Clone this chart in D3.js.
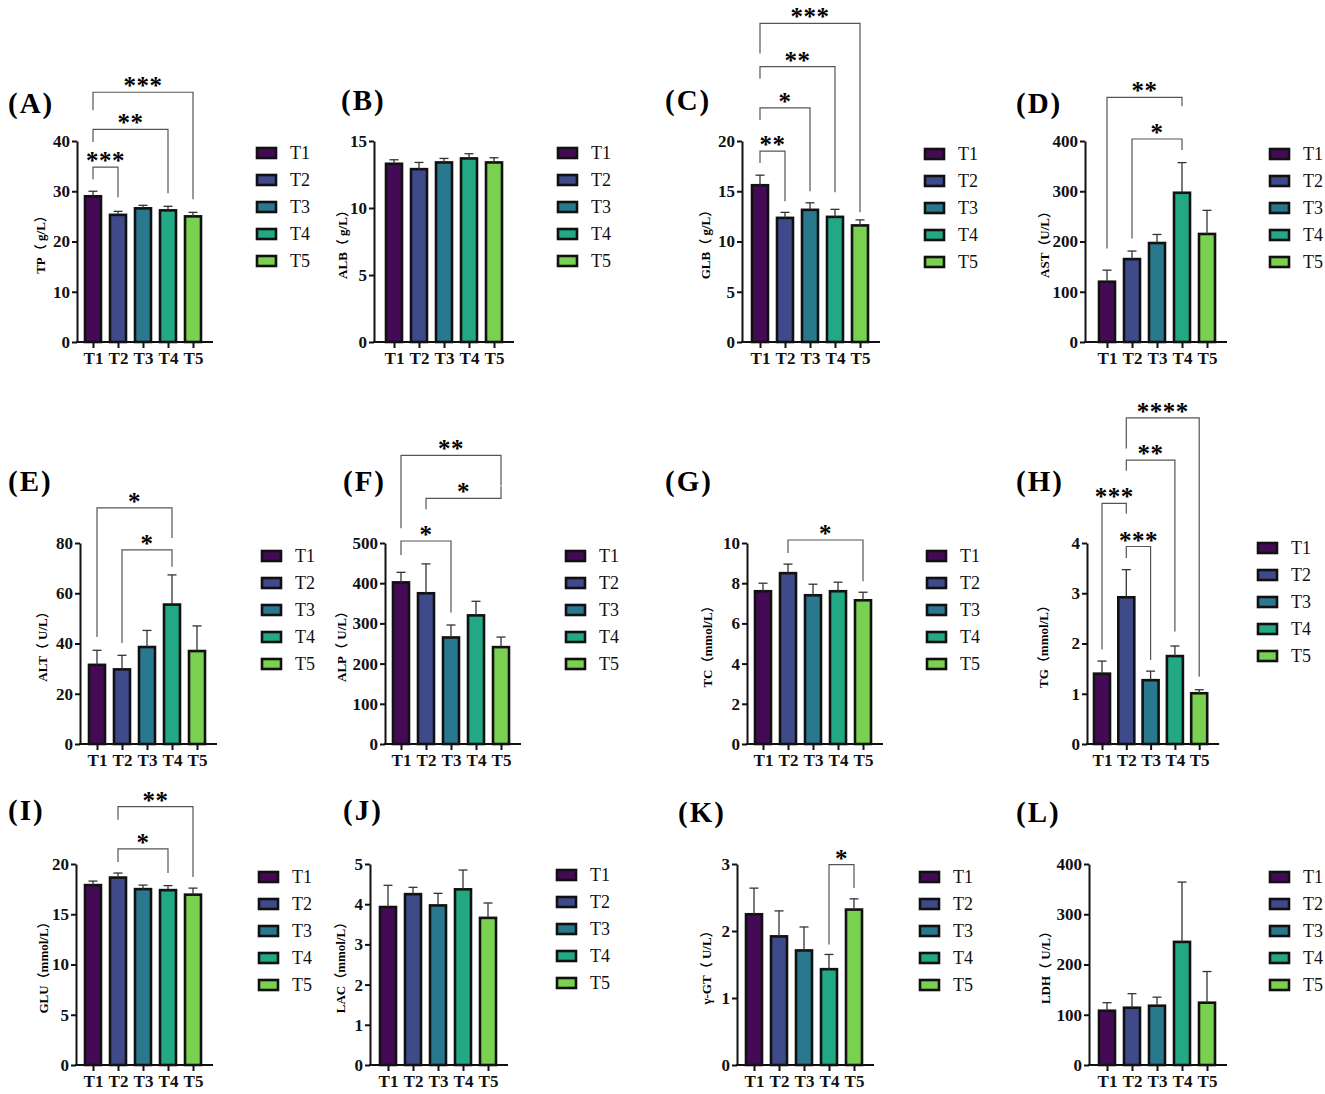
<!DOCTYPE html>
<html>
<head>
<meta charset="utf-8">
<script src="https://cdn.jsdelivr.net/npm/d3@7"></script>
<style>
  body { margin: 0; background: #fff; }
  svg { display: block; }
  text { font-family: "Liberation Serif", "Noto Sans CJK SC", serif; }
</style>
</head>
<body>
<svg width="1325" height="1094"></svg>
<script>
// groups
var categories = ["T1", "T2", "T3", "T4", "T5"];

// means and upward error (top of bar minus mean)
var tpMean = [29.0, 25.3, 26.6, 26.2, 25.0],   tpErr = [1.0, 0.7, 0.6, 0.8, 0.8];
var albMean = [13.3, 12.9, 13.4, 13.7, 13.4],  albErr = [0.3, 0.5, 0.3, 0.35, 0.35];
var glbMean = [15.6, 12.35, 13.15, 12.45, 11.6], glbErr = [1.0, 0.55, 0.7, 0.75, 0.55];
var astMean = [120, 165, 197, 297, 215],       astErr = [23, 16, 17, 60, 47];
var altMean = [31.5, 29.7, 38.6, 55.5, 37.0],  altErr = [5.8, 5.6, 6.6, 11.8, 10.0];
var alpMean = [402, 375, 265, 320, 241],       alpErr = [25, 73, 31, 35, 25];
var tcMean = [7.6, 8.5, 7.4, 7.6, 7.15],       tcErr = [0.4, 0.45, 0.55, 0.45, 0.4];
var tgMean = [1.4, 2.92, 1.27, 1.75, 1.01],    tgErr = [0.25, 0.55, 0.18, 0.2, 0.07];
var gluMean = [17.9, 18.65, 17.5, 17.4, 16.95], gluErr = [0.4, 0.45, 0.4, 0.45, 0.65];
var lacMean = [3.93, 4.25, 3.97, 4.37, 3.66],  lacErr = [0.54, 0.17, 0.3, 0.48, 0.37];
var ggtMean = [2.25, 1.92, 1.71, 1.43, 2.32],  ggtErr = [0.39, 0.38, 0.35, 0.22, 0.16];
var ldhMean = [108, 114, 118, 245, 124],       ldhErr = [16, 28, 17, 119, 62];

// y ticks
var tpTicks = [0, 10, 20, 30, 40];
var albTicks = [0, 5, 10, 15];
var glbTicks = [0, 5, 10, 15, 20];
var astTicks = [0, 100, 200, 300, 400];
var altTicks = [0, 20, 40, 60, 80];
var alpTicks = [0, 100, 200, 300, 400, 500];
var tcTicks = [0, 2, 4, 6, 8, 10];
var tgTicks = [0, 1, 2, 3, 4];
var gluTicks = [0, 5, 10, 15, 20];
var lacTicks = [0, 1, 2, 3, 4, 5];
var ggtTicks = [0, 1, 2, 3];
var ldhTicks = [0, 100, 200, 300, 400];

// significance brackets: [from, to, level, left leg end, right leg end, label] (data units)
var tpSig = [[0, 1, 34.8, 32.4, 28.8, "***"], [0, 3, 42.3, 39.8, 29.6, "**"], [0, 4, 49.7, 46.1, 28.4, "***"]];
var glbSig = [[0, 1, 19.0, 17.8, 14.0, "**"], [0, 2, 23.3, 22.1, 15.0, "*"], [0, 3, 27.4, 26.2, 14.9, "**"], [0, 4, 31.7, 28.7, 12.9, "***"]];
var astSig = [[0, 3, 487, 186, 469, "**"], [1, 3, 404, 206, 382, "*"]];
var altSig = [[0, 3, 94, 42.6, 82, "*"], [1, 3, 77.3, 40.2, 70.5, "*"]];
var alpSig = [[0, 4, 718, 537, 643, "**"], [1, 4, 611, 584, 641, "*"], [0, 2, 505, 470, 327, "*"]];
var tcSig = [[1, 4, 10.15, 9.5, 8.1, "*"]];
var tgSig = [[0, 1, 4.79, 1.88, 4.58, "***"], [1, 2, 3.93, 3.7, 1.67, "***"], [1, 3, 5.65, 5.44, 2.24, "**"], [1, 4, 6.49, 5.88, 1.34, "****"]];
var gluSig = [[1, 4, 25.7, 24.4, 18.7, "**"], [1, 3, 21.5, 20.2, 19.1, "*"]];
var ggtSig = [[3, 4, 2.99, 1.8, 2.64, "*"]];

var colors = ["#450a55", "#3e4a89", "#2a788e", "#22a884", "#7ad151"];
var serif = "Liberation Serif";

var panels = [
  {tag: "A", title: "TP（ g/L）", mean: tpMean, err: tpErr, ticks: tpTicks, sig: tpSig},
  {tag: "B", title: "ALB（ g/L）", mean: albMean, err: albErr, ticks: albTicks, sig: []},
  {tag: "C", title: "GLB（ g/L）", mean: glbMean, err: glbErr, ticks: glbTicks, sig: glbSig},
  {tag: "D", title: "AST（U/L）", mean: astMean, err: astErr, ticks: astTicks, sig: astSig},
  {tag: "E", title: "ALT（ U/L）", mean: altMean, err: altErr, ticks: altTicks, sig: altSig},
  {tag: "F", title: "ALP（ U/L）", mean: alpMean, err: alpErr, ticks: alpTicks, sig: alpSig},
  {tag: "G", title: "TC（mmol/L）", mean: tcMean, err: tcErr, ticks: tcTicks, sig: tcSig},
  {tag: "H", title: "TG（mmol/L）", mean: tgMean, err: tgErr, ticks: tgTicks, sig: tgSig},
  {tag: "I", title: "GLU（mmol/L）", mean: gluMean, err: gluErr, ticks: gluTicks, sig: gluSig},
  {tag: "J", title: "LAC（mmol/L）", mean: lacMean, err: lacErr, ticks: lacTicks, sig: []},
  {tag: "K", title: "γ-GT（ U/L）", mean: ggtMean, err: ggtErr, ticks: ggtTicks, sig: ggtSig},
  {tag: "L", title: "LDH（ U/L）", mean: ldhMean, err: ldhErr, ticks: ldhTicks, sig: []}
];

// layout: axis x, first bar x, bar step, legend x/y, tag x/y, title offset
var rows = [{top: 141, zero: 342}, {top: 543, zero: 744}, {top: 864, zero: 1065}];
var layout = [
  {ax: 77,   b1: 93,   st: 25,   lx: 257,  ly: 153, tx: 8,    ty: 103, to: 37},
  {ax: 374,  b1: 394,  st: 25,   lx: 558,  ly: 153, tx: 341,  ty: 100, to: 32},
  {ax: 742,  b1: 760,  st: 25,   lx: 925,  ly: 154, tx: 665,  ty: 100, to: 37},
  {ax: 1085, b1: 1107, st: 25,   lx: 1270, ly: 154, tx: 1016, ty: 103, to: 41},
  {ax: 80,   b1: 97,   st: 25,   lx: 262,  ly: 556, tx: 8,    ty: 481, to: 38},
  {ax: 385,  b1: 401,  st: 25,   lx: 566,  ly: 556, tx: 343,  ty: 481, to: 44},
  {ax: 747,  b1: 763,  st: 25,   lx: 927,  ly: 556, tx: 665,  ty: 481, to: 40},
  {ax: 1087, b1: 1102, st: 24.3, lx: 1258, ly: 548, tx: 1016, ty: 481, to: 44},
  {ax: 76,   b1: 93,   st: 25,   lx: 259,  ly: 877, tx: 8,    ty: 810, to: 33},
  {ax: 370,  b1: 388,  st: 25,   lx: 557,  ly: 875, tx: 343,  ty: 810, to: 30},
  {ax: 737,  b1: 754,  st: 25,   lx: 920,  ly: 877, tx: 678,  ty: 812, to: 31},
  {ax: 1089, b1: 1107, st: 25,   lx: 1270, ly: 877, tx: 1016, ty: 812, to: 44}
];

var svg = d3.select("svg");

panels.forEach(function(p, i) {
  var L = layout[i], R = rows[Math.floor(i / 4)];
  var g = svg.append("g");

  var x = d3.scalePoint().domain(categories).range([L.b1, L.b1 + 4 * L.st]);
  var y = d3.scaleLinear().domain([0, d3.max(p.ticks)]).range([R.zero, R.top]);
  var bw = 16;

  // panel tag
  g.append("text")
    .attr("x", L.tx).attr("y", L.ty)
    .attr("dominant-baseline", "central")
    .attr("font-family", serif).attr("font-weight", "bold")
    .attr("font-size", 29).attr("letter-spacing", 2)
    .text("(" + p.tag + ")");

  // bars
  g.selectAll("rect.bar").data(p.mean).enter().append("rect")
    .attr("class", "bar")
    .attr("x", function(d, j) { return x(categories[j]) - bw / 2; })
    .attr("y", function(d) { return y(d); })
    .attr("width", bw)
    .attr("height", function(d) { return y(0) - y(d); })
    .style("fill", function(d, j) { return colors[j]; })
    .style("stroke", "#111").style("stroke-width", 2.6);

  // error bars (upper only)
  var eb = g.selectAll("g.err").data(p.mean).enter().append("g").attr("class", "err");
  eb.append("line")
    .attr("x1", function(d, j) { return x(categories[j]); })
    .attr("x2", function(d, j) { return x(categories[j]); })
    .attr("y1", function(d) { return y(d); })
    .attr("y2", function(d, j) { return y(d + p.err[j]); })
    .style("stroke", "#333").style("stroke-width", 1.3);
  eb.append("line")
    .attr("x1", function(d, j) { return x(categories[j]) - 4.5; })
    .attr("x2", function(d, j) { return x(categories[j]) + 4.5; })
    .attr("y1", function(d, j) { return y(d + p.err[j]); })
    .attr("y2", function(d, j) { return y(d + p.err[j]); })
    .style("stroke", "#333").style("stroke-width", 1.3);

  // y axis
  var ya = g.append("g")
    .attr("transform", "translate(" + L.ax + ",0)")
    .call(d3.axisLeft(y).tickValues(p.ticks).tickFormat(d3.format("d"))
      .tickSize(5).tickSizeOuter(0).tickPadding(2));
  ya.select(".domain").style("stroke", "#111").style("stroke-width", 2);
  ya.selectAll(".tick line").style("stroke", "#111").style("stroke-width", 2);
  ya.selectAll(".tick text")
    .attr("font-family", serif).attr("font-weight", "bold")
    .attr("font-size", 17).style("fill", "#111");

  // x axis
  var xa = g.append("g")
    .attr("transform", "translate(0," + R.zero + ")")
    .call(d3.axisBottom(x).tickSize(6).tickPadding(4));
  xa.select(".domain").remove();
  xa.selectAll(".tick line").style("stroke", "#111").style("stroke-width", 2);
  xa.selectAll(".tick text")
    .attr("font-family", serif).attr("font-weight", "bold")
    .attr("font-size", 17).style("fill", "#111");
  g.append("line")
    .attr("x1", L.ax - 1).attr("x2", x(categories[4]) + 20)
    .attr("y1", R.zero).attr("y2", R.zero)
    .style("stroke", "#111").style("stroke-width", 2);

  // y title
  g.append("text")
    .attr("transform", "translate(" + (L.ax - L.to) + "," + ((R.top + R.zero) / 2) + ") rotate(-90)")
    .attr("text-anchor", "middle").attr("dominant-baseline", "central")
    .attr("font-weight", "bold").attr("font-size", 13)
    .text(p.title);

  // significance brackets
  p.sig.forEach(function(s) {
    var xa1 = x(categories[s[0]]), xb = x(categories[s[1]]);
    g.append("path")
      .attr("d", "M" + xa1 + "," + y(s[3]) + "V" + y(s[2]) + "H" + xb + "V" + y(s[4]))
      .style("fill", "none").style("stroke", "#555").style("stroke-width", 1.2);
    g.append("text")
      .attr("x", (xa1 + xb) / 2).attr("y", y(s[2]) + 2)
      .attr("text-anchor", "middle")
      .attr("font-family", "Liberation Sans").attr("font-weight", "bold")
      .attr("font-size", 25).attr("letter-spacing", 0.5)
      .text(s[5]);
  });

  // legend
  var lg = g.selectAll("g.leg").data(categories).enter().append("g")
    .attr("class", "leg")
    .attr("transform", function(d, j) { return "translate(" + L.lx + "," + (L.ly + j * 27) + ")"; });
  lg.append("rect")
    .attr("x", 0).attr("y", -5).attr("width", 19).attr("height", 10)
    .style("fill", function(d, j) { return colors[j]; })
    .style("stroke", "#111").style("stroke-width", 2.6);
  lg.append("text")
    .attr("x", 33).attr("y", 0).attr("dominant-baseline", "central")
    .attr("font-family", serif).attr("font-size", 18).style("fill", "#111")
    .text(function(d) { return d; });
});
</script>
</body>
</html>
